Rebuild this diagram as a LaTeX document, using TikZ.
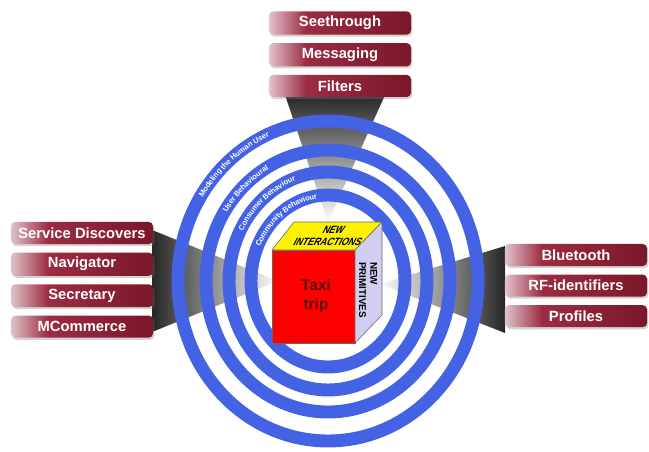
\documentclass[tikz,border=0pt]{standalone}
\usepackage{fontspec}
\setmainfont{Liberation Sans}
\usetikzlibrary{positioning,shadows,calc,decorations.text}
\definecolor{anello}{HTML}{4462E4}
\definecolor{tabpale}{HTML}{E2C2CA}
\definecolor{tabred}{HTML}{9C2C42}
\definecolor{tabdark}{HTML}{7A1729}
\definecolor{lilla}{HTML}{D2CEF2}
\definecolor{testocubo}{HTML}{5A1212}
\pgfdeclarehorizontalshading{tabshade}{100bp}{color(0bp)=(tabpale); color(25bp)=(tabpale); color(38bp)=(tabred); color(75bp)=(tabdark); color(100bp)=(tabdark)}
\begin{document}
\begin{tikzpicture}[x=0.025cm, y=-0.025cm,
    tab/.style={shade, shading=tabshade, rounded corners=3pt, minimum width=3.55cm, minimum height=0.55cm, text=white, font=\fontsize{10.5}{12}\selectfont\bfseries, drop shadow={opacity=0.35, shadow xshift=1pt, shadow yshift=-1.5pt}},
    ring/.style={draw=anello, line width=9.2pt},
    ringtext/.style={decorate, decoration={text along path, text align=center, raise=-1.9pt, text={|\color{white}\bfseries\fontsize{5.4}{6}\selectfont|#1}}}]
    \useasboundingbox (0,0) rectangle (649,452);
    \coordinate (centro) at (328,281);
    % Fasci grigi verso il centro
    \shade[top color=black!85, middle color=black!45, bottom color=white] (285,95) -- (385,95) -- (328,222) -- cycle;
    \shade[left color=black!85, middle color=black!45, right color=white] (152,230) -- (152,332) -- (278,281) -- cycle;
    \shade[right color=black!85, middle color=black!45, left color=white] (505,246) -- (505,333) -- (380,284) -- cycle;
    % Blocchi in alto
    \node[tab] (seet) at (340,23) {Seethrough};
    \node[tab, below=2mm of seet] (mess) {Messaging};
    \node[tab, below=2mm of mess] (filt) {Filters};
    % Blocchi a sinistra
    \node[tab] (serv) at (82,233) {Service Discovers};
    \node[tab, below=2mm of serv] (navi) {Navigator};
    \node[tab, below=2mm of navi] (secr) {Secretary};
    \node[tab, below=2mm of secr] (mcom) {MCommerce};
    % Blocchi a destra
    \node[tab] (blue) at (576,255) {Bluetooth};
    \node[tab, below=2mm of blue] (rfid) {RF-identifiers};
    \node[tab, below=2mm of rfid] (prof) {Profiles};
    % Anelli
    \draw[ring] (centro) ellipse [x radius=150, y radius=160];
    \draw[ring] (centro) ellipse [x radius=122, y radius=131];
    \draw[ring] (centro) ellipse [x radius=99, y radius=109];
    \draw[ring] (centro) ellipse [x radius=77, y radius=86];
    \path[ringtext={Modeling the Human User}] ($(centro)+(-160:150 and 160)$) arc[start angle=-160, end angle=-101, x radius=150, y radius=160];
    \path[ringtext={User Behavioural}] ($(centro)+(-162:122 and 131)$) arc[start angle=-162, end angle=-105, x radius=122, y radius=131];
    \path[ringtext={Consumer Behaviour}] ($(centro)+(-162:99 and 109)$) arc[start angle=-162, end angle=-99, x radius=99, y radius=109];
    \path[ringtext={Community Behaviour}] ($(centro)+(-167:77 and 86)$) arc[start angle=-167, end angle=-86, x radius=77, y radius=86];
    % Cubo
    \filldraw[fill=red, draw=black!60, thin] (272,250) rectangle (355,343);
    \filldraw[fill=yellow, draw=black!60, thin] (272,250) -- (294,222) -- (382,222) -- (355,250) -- cycle;
    \filldraw[fill=lilla, draw=black!60, thin] (355,250) -- (382,222) -- (382,315) -- (355,343) -- cycle;
    \node[text=testocubo, font=\fontsize{11}{13}\selectfont\bfseries, align=center] (taxi) at (316,296) {Taxi\\trip};
    \node[font=\fontsize{7.5}{8.5}\selectfont\bfseries, align=center, xscale=0.85, xslant=0.6] (inter) at (331,236) {NEW\\INTERACTIONS};
    \node[font=\fontsize{7}{8}\selectfont\bfseries, align=left, rotate=-90] (prim) at (368,290) {NEW\\PRIMITIVES};
\end{tikzpicture}
\end{document}
